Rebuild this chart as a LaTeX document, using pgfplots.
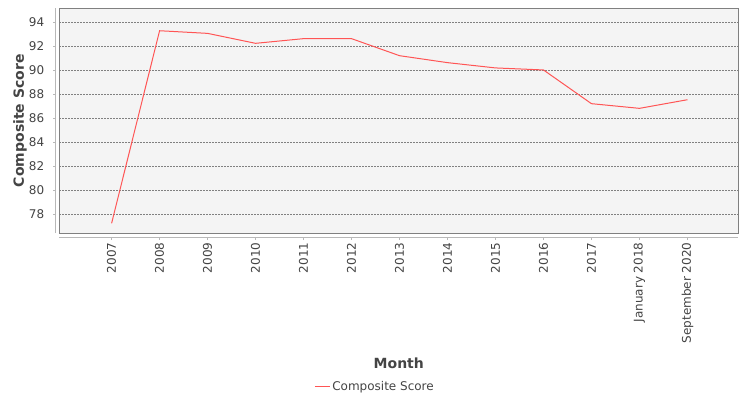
\documentclass[border=0pt]{standalone}
\usepackage{pgfplots}
\pgfplotsset{compat=1.18}
\usepackage{fontspec}
\setmainfont{DejaVu Sans}
\definecolor{txt}{HTML}{444444}
\definecolor{plotbg}{HTML}{F4F4F4}
\definecolor{outline}{HTML}{808080}
\definecolor{axline}{HTML}{B8B8B8}
\definecolor{gridc}{HTML}{808080}
\definecolor{series}{HTML}{FF5555}

\begin{document}
\begin{tikzpicture}
\useasboundingbox (0,0) rectangle (750bp,400bp);
\begin{axis}[
  at={(59.3bp,167bp)}, anchor=south west,
  scale only axis,
  width=679bp, height=224.7bp,
  xmin=-1.09, xmax=13.06,
  ymin=76.44, ymax=95.17,
  axis lines*=left,
  axis x line shift=4.5bp,
  axis y line shift=3.6bp,
  axis line style={axline, line width=1bp},
  axis background/.style={fill=plotbg, draw=outline, line width=1bp},
  tick align=outside,
  major tick length=2.5bp,
  tick style={axline, line width=1bp},
  xtick={0,...,12},
  xticklabels={2007,2008,2009,2010,2011,2012,2013,2014,2015,2016,2017,January 2018,September 2020},
  ytick={78,80,...,94},
  ymajorgrids,
  grid style={gridc, line width=0.6bp, dash pattern=on 1.2bp off 1.8bp},
  /pgf/number format/assume math mode=true,
  ticklabel style={font=\fontsize{12bp}{14bp}\selectfont, text=txt},
  xticklabel style={rotate=90, anchor=east, xshift=1bp},
  yticklabel style={anchor=east, xshift=-5.5bp},
  xlabel={Month},
  ylabel={Composite Score},
  label style={font=\bfseries\fontsize{14bp}{16bp}\selectfont, text=txt},
  xlabel style={at={(axis description cs:0.5,0)}, anchor=center, yshift=-130bp},
  ylabel style={at={(axis description cs:0,0.5)}, anchor=center, yshift=39.3bp},
  legend style={at={(axis description cs:0.465,-0.685)}, anchor=center,
    draw=none, fill=none, font=\fontsize{12bp}{14bp}\selectfont, text=txt},
  legend image code/.code={\draw[#1] (0bp,0bp) -- (15bp,0bp);},
]
\addplot[series, line width=1bp] coordinates {
  (0,77.25) (1,93.30) (2,93.08) (3,92.25) (4,92.64) (5,92.64)
  (6,91.22) (7,90.64) (8,90.20) (9,90.03) (10,87.22) (11,86.83) (12,87.55)
};
\addlegendentry{Composite Score}
\end{axis}
\end{tikzpicture}
\end{document}
